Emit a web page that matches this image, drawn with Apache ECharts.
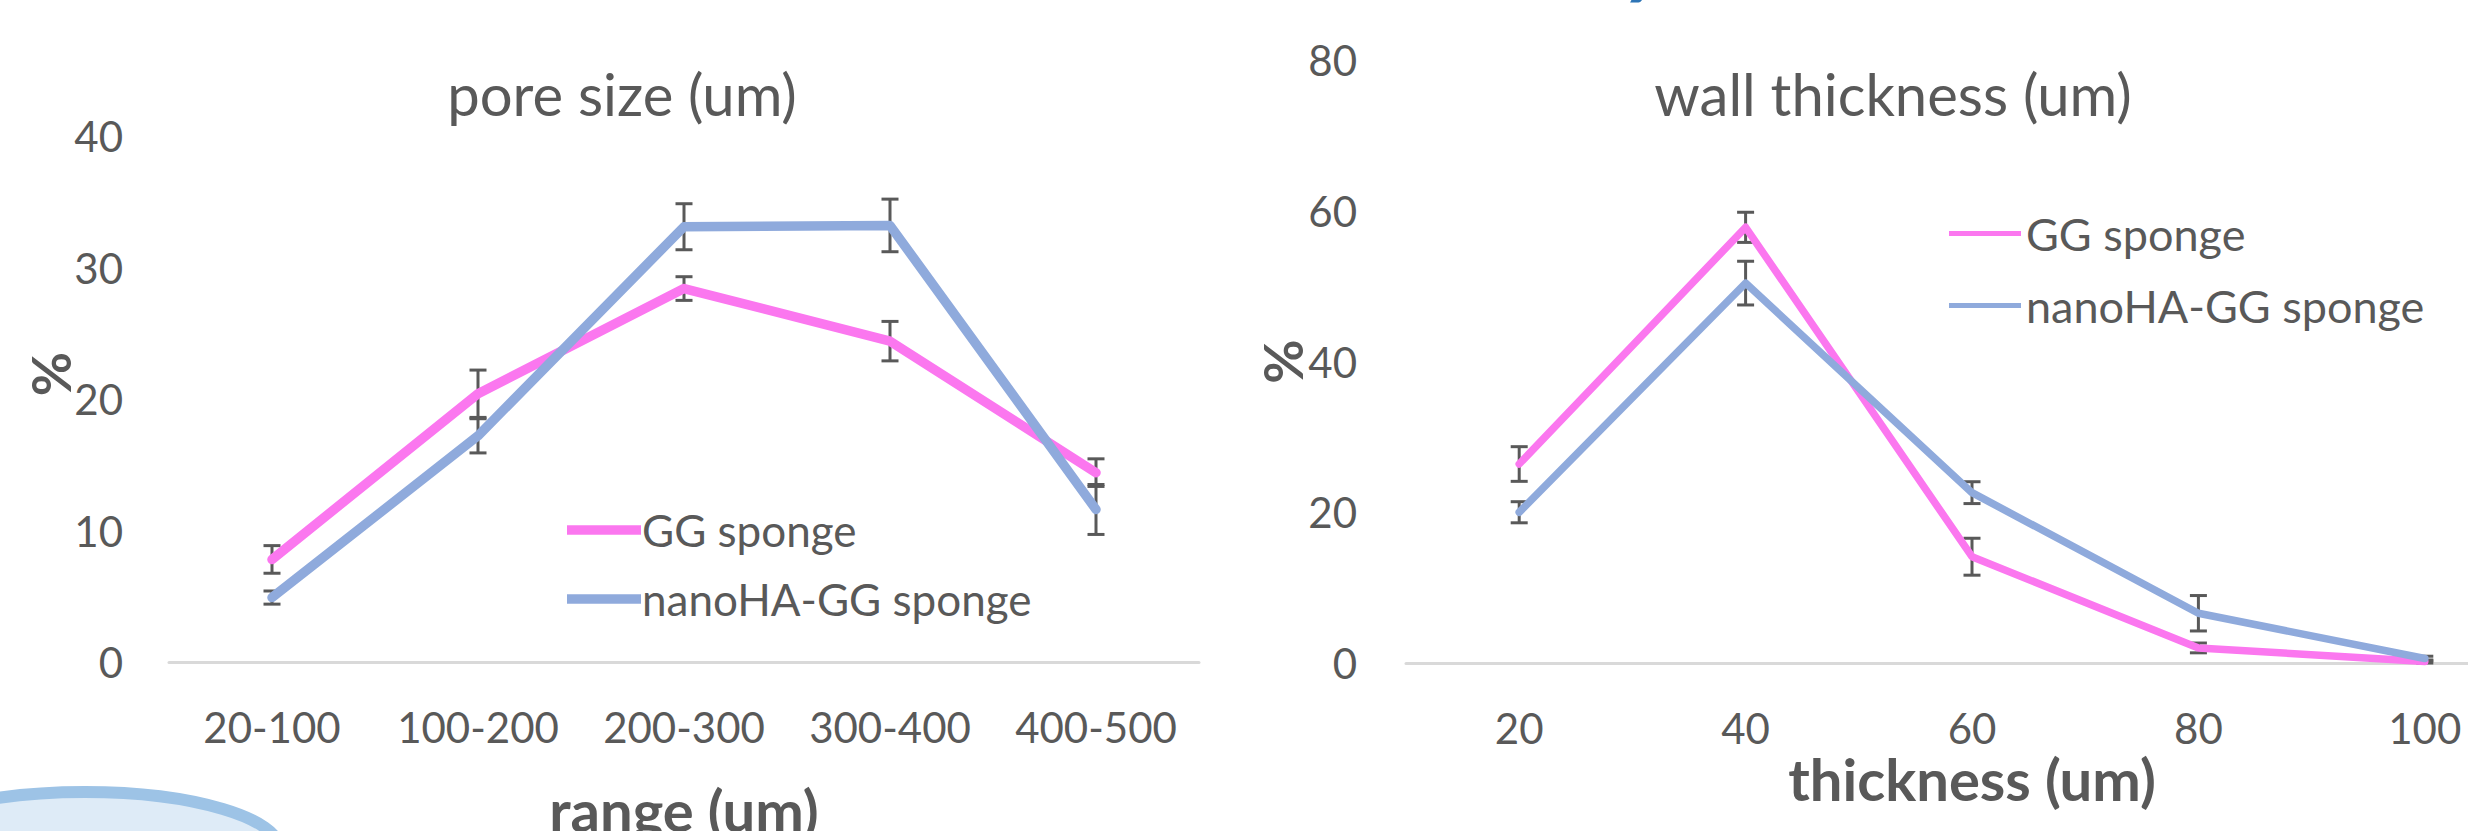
<!DOCTYPE html>
<html>
<head>
<meta charset="utf-8">
<script src="https://cdn.jsdelivr.net/npm/echarts@6/dist/echarts.min.js"></script>
<style>
html,body{margin:0;padding:0;background:#fff;}
#c{width:2468px;height:831px;}
</style>
</head>
<body>
<div id="c"></div>
<script>
// ---- data ----
const poreCats = ['20-100', '100-200', '200-300', '300-400', '400-500'];
const poreGG = [7.8, 20.4, 28.4, 24.4, 14.4];
const poreGGErr = [1.05, 1.8, 0.9, 1.5, 1.05];
const poreNano = [4.9, 17.2, 33.1, 33.2, 11.6];
const poreNanoErr = [0.5, 1.3, 1.75, 2.0, 1.9];

const wallCats = ['20', '40', '60', '80', '100'];
const wallGG = [26.4, 57.8, 14.1, 2.0, 0.2];
const wallGGErr = [2.3, 2.0, 2.45, 0.65, 0.2];
const wallNano = [20.0, 50.4, 22.6, 6.6, 0.6];
const wallNanoErr = [1.4, 2.9, 1.45, 2.35, 0.3];

const seriesNames = ['GG sponge', 'nanoHA-GG sponge'];
const poreTicks = [0, 10, 20, 30, 40];
const wallTicks = [0, 20, 40, 60, 80];

// ---- style ----
const PINK = '#FB77EF';
const BLUE = '#8FAADC';
const TXT = '#595959';
const FONT = 'Lato, "Open Sans", sans-serif';

function errData(vals, errs) {
  return vals.map((v, i) => [i, v - errs[i], v + errs[i]]);
}
function errSeries(vals, errs, idx) {
  return {
    type: 'custom',
    xAxisIndex: idx, yAxisIndex: idx,
    z: 1,
    silent: true,
    encode: { x: 0, y: [1, 2] },
    data: errData(vals, errs),
    renderItem: function (params, api) {
      const x = api.value(0);
      const lo = api.coord([x, api.value(1)]);
      const hi = api.coord([x, api.value(2)]);
      const hw = 8.5;
      const st = { stroke: '#595959', lineWidth: 3 };
      return {
        type: 'group',
        children: [
          { type: 'line', shape: { x1: lo[0], y1: lo[1], x2: hi[0], y2: hi[1] }, style: st },
          { type: 'line', shape: { x1: lo[0] - hw, y1: lo[1], x2: lo[0] + hw, y2: lo[1] }, style: st },
          { type: 'line', shape: { x1: hi[0] - hw, y1: hi[1], x2: hi[0] + hw, y2: hi[1] }, style: st }
        ]
      };
    }
  };
}
function lineSeries(name, vals, color, width, idx) {
  return {
    type: 'line', name: name, data: vals,
    xAxisIndex: idx, yAxisIndex: idx,
    symbol: 'none', z: 3,
    lineStyle: { color: color, width: width, cap: 'round', join: 'round' },
    itemStyle: { color: color },
    animation: false
  };
}

const chart = echarts.init(document.getElementById('c'), null, { renderer: 'svg' });

const commonX = {
  type: 'category', boundaryGap: true,
  axisTick: { show: false },
  axisLine: { show: true, lineStyle: { color: '#D9D9D9', width: 3 } },
  axisLabel: { color: TXT, fontFamily: FONT, fontSize: 42, margin: 44, interval: 0, hideOverlap: false },
  nameLocation: 'middle',
  nameMoveOverlap: false,
  nameTextStyle: { color: TXT, fontFamily: FONT, fontSize: 58, fontWeight: 'bold' }
};
const commonY = {
  type: 'value',
  axisLine: { show: false }, axisTick: { show: false }, splitLine: { show: false },
  axisLabel: { color: TXT, fontFamily: FONT, fontSize: 42 },
  nameLocation: 'middle', nameRotate: 90,
  nameMoveOverlap: false,
  nameTextStyle: { color: TXT, fontFamily: FONT, fontSize: 54, fontWeight: 'bold' }
};

const option = {
  backgroundColor: '#ffffff',
  animation: false,
  title: [
    { text: 'pore size (um)', left: 622, top: 64, textAlign: 'center', padding: 0,
      textStyle: { color: TXT, fontFamily: FONT, fontSize: 58, fontWeight: 'normal' } },
    { text: 'wall thickness (um)', left: 1893, top: 64, textAlign: 'center', padding: 0,
      textStyle: { color: TXT, fontFamily: FONT, fontSize: 58, fontWeight: 'normal' } }
  ],
  legend: [
    { data: seriesNames, orient: 'vertical', left: 567, top: 508, padding: 0,
      icon: 'rect', itemWidth: 74, itemHeight: 9.5, itemGap: 25,
      textStyle: { color: TXT, fontFamily: FONT, fontSize: 44, padding: [0, 0, 0, -4] } },
    { data: seriesNames, orient: 'vertical', left: 1949, top: 211, padding: 0,
      icon: 'rect', itemWidth: 72, itemHeight: 5, itemGap: 27,
      textStyle: { color: TXT, fontFamily: FONT, fontSize: 45, padding: [0, 0, 0, 0] } }
  ],
  grid: [
    { left: 169, top: 136, width: 1030, height: 526, outerBoundsMode: 'none' },
    { left: 1406, top: 60, width: 1132, height: 603, outerBoundsMode: 'none' }
  ],
  xAxis: [
    Object.assign({}, commonX, { gridIndex: 0, data: poreCats, name: 'range (um)', nameGap: 118 }),
    Object.assign({}, commonX, { gridIndex: 1, data: wallCats, name: 'thickness (um)', nameGap: 86 })
  ],
  yAxis: [
    Object.assign({}, commonY, { gridIndex: 0, min: poreTicks[0], max: poreTicks[poreTicks.length - 1],
      interval: poreTicks[1] - poreTicks[0], name: '%', nameGap: 92,
      axisLabel: Object.assign({}, commonY.axisLabel, { margin: 46 }),
      nameTextStyle: Object.assign({}, commonY.nameTextStyle, { padding: [0, 0, 0, 50] }) }),
    Object.assign({}, commonY, { gridIndex: 1, min: wallTicks[0], max: wallTicks[wallTicks.length - 1],
      interval: wallTicks[1] - wallTicks[0], name: '%', nameGap: 97,
      axisLabel: Object.assign({}, commonY.axisLabel, { margin: 49 }) })
  ],
  graphic: [
    { type: 'ellipse', z: 0, silent: true,
      shape: { cx: 85, cy: 850, rx: 195, ry: 58 },
      style: { fill: '#DEEBF7', stroke: '#9DC3E6', lineWidth: 12 } },
    { type: 'text', z: 0, silent: true, x: 1626, y: -3,
      style: { text: 'y', fill: '#2E75B6', font: 'italic bold 90px Lato', verticalAlign: 'bottom', align: 'left' } }
  ],
  series: [
    errSeries(poreGG, poreGGErr, 0),
    errSeries(poreNano, poreNanoErr, 0),
    lineSeries(seriesNames[0], poreGG, PINK, 9.5, 0),
    lineSeries(seriesNames[1], poreNano, BLUE, 9.5, 0),
    errSeries(wallGG, wallGGErr, 1),
    errSeries(wallNano, wallNanoErr, 1),
    lineSeries(seriesNames[0], wallGG, PINK, 7.5, 1),
    lineSeries(seriesNames[1], wallNano, BLUE, 7.5, 1)
  ]
};
chart.setOption(option);
</script>
</body>
</html>
